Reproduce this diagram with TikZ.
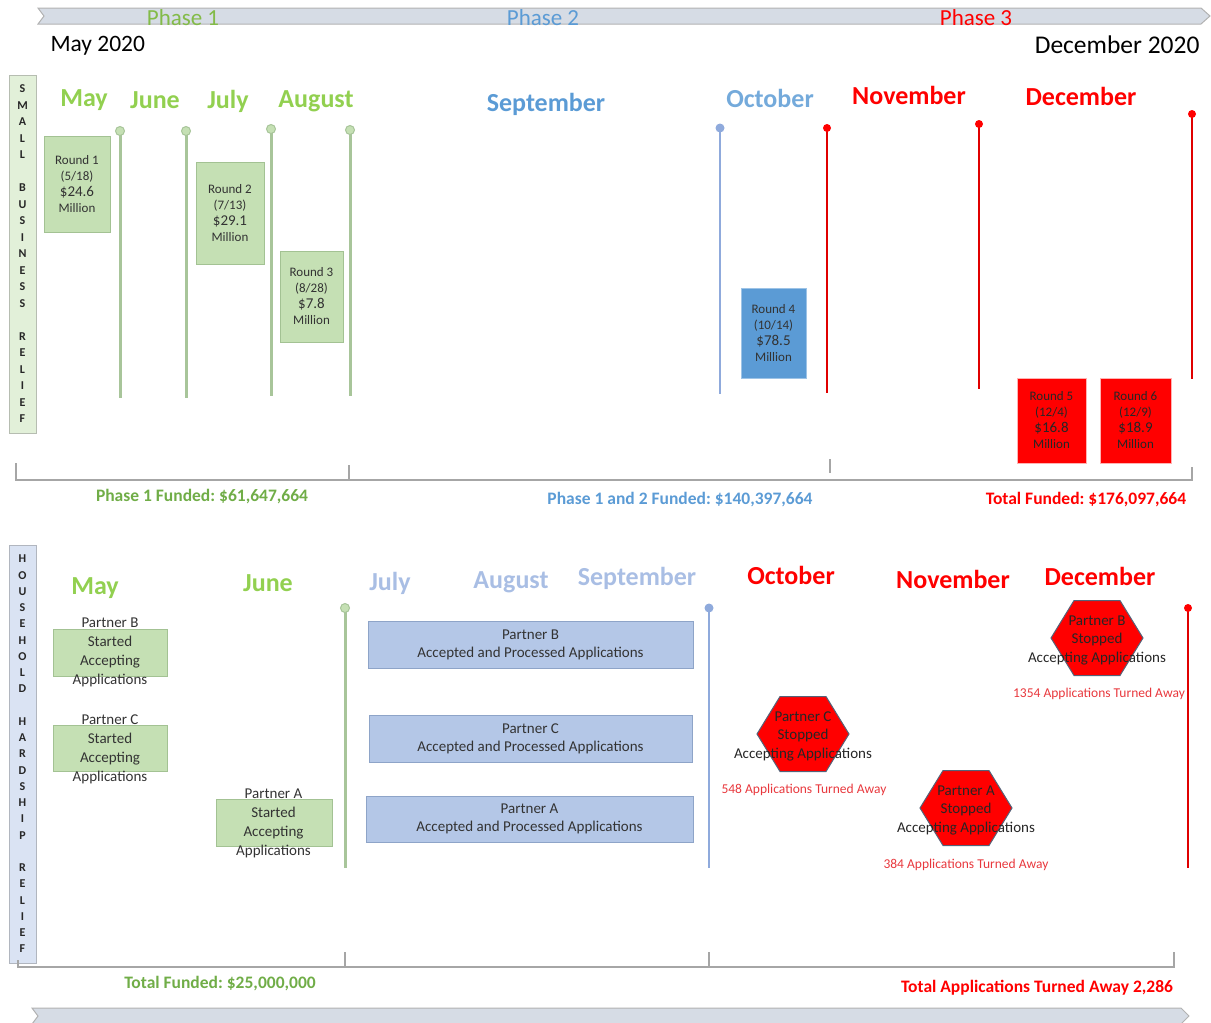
\documentclass[tikz,border=0pt]{standalone}
\usepackage{fontspec}
\setmainfont{Carlito}
\usepackage{tikz}
\frenchspacing

\definecolor{mgreen}{HTML}{92D050}
\definecolor{fgreen}{HTML}{70AD47}
\definecolor{mblue}{HTML}{5B9BD5}
\definecolor{pblue}{HTML}{A9BEE4}
\definecolor{boxgreen}{HTML}{C5E0B4}
\definecolor{edgegreen}{HTML}{A3C293}
\definecolor{boxblue}{HTML}{B4C7E7}
\definecolor{edgeblue}{HTML}{8EA4C8}
\definecolor{linegreen}{HTML}{A8C59A}
\definecolor{lineblue}{HTML}{8FAADC}
\definecolor{linered}{HTML}{E00000}
\definecolor{bandgray}{HTML}{D6DCE5}
\definecolor{tickgray}{HTML}{A6A6A6}
\definecolor{awayred}{HTML}{E8383D}
\definecolor{ink}{HTML}{333333}
\definecolor{sidegreen}{HTML}{E2F0D9}
\definecolor{sideblue}{HTML}{DAE3F3}

\newcommand{\fsz}[2]{\fontsize{#1}{#2}\selectfont}

\begin{document}
\begin{tikzpicture}[x=1pt,y=-1pt,
    month/.style={anchor=base,font=\bfseries\fsz{26}{30}},
    phase/.style={anchor=base,font=\fsz{23}{26}},
    total/.style={anchor=base,font=\bfseries\fsz{17.5}{20}},
    away/.style={anchor=base,text=awayred,font=\fsz{13.5}{16}},
    sidebar/.style={fill=#1,draw=#1!55!gray,minimum width=27,inner sep=0,align=center,text=black!85},
    roundbox/.style={minimum width=66,minimum height=90,inner sep=0,align=center,text=ink,font=\fsz{13}{16}},
    partner/.style={fill=boxgreen,draw=edgegreen,minimum width=114,minimum height=47,inner sep=0},
    started/.style={align=center,text=ink,font=\fsz{15}{19}},
    process/.style={fill=boxblue,draw=edgeblue,minimum width=325,minimum height=47,inner sep=0,align=center,text=ink,font=\fsz{15}{18}},
    hexa/.style={fill=red,draw=edgeblue!60!black,line width=1},
    stop/.style={align=center,text=black!85,font=\fsz{15}{18.5}},
    bracket/.style={draw=tickgray,line width=1.5},
    band/.style={fill=bandgray,draw=gray!60,line width=1}]

\useasboundingbox (0,0) rectangle (1211,1023);

% top band
\draw[band] (38,8) -- (1201,8) -- (1210,16) -- (1201,24) -- (38,24) -- (44,16) -- cycle;
\node[phase,text=mgreen!90!black] (ph1) at (183,25) {Phase 1};
\node[phase,text=mblue] (ph2) at (543,25) {Phase 2};
\node[phase,text=red] (ph3) at (976,25) {Phase 3};
\node[anchor=base west,font=\fsz{23.5}{26}] (start) at (47,51) {May 2020};
\node[anchor=base east,font=\fsz{25.5}{28}] (end) at (1203,53) {December 2020};

% small business relief
\node[sidebar=sidegreen,minimum height=358,font=\bfseries\fsz{12}{16.5}] (sbr) at (22.5,254)
  {S\\M\\A\\L\\L\\~\\B\\U\\S\\I\\N\\E\\S\\S\\~\\R\\E\\L\\I\\E\\F};

\node[month,text=mgreen] (mayA) at (84,106) {May};
\node[month,text=mgreen] (juneA) at (155,108) {June};
\node[month,text=mgreen] (julyA) at (228,108) {July};
\node[month,text=mgreen] (augA) at (316,107) {August};
\node[month,text=mblue] (sepA) at (546,111) {September};
\node[month,text=mblue!85!white] (octA) at (770,107) {October};
\node[month,text=red] (novA) at (909,104) {November};
\node[month,text=red] (decA) at (1081,105) {December};

\foreach \x/\t/\b in {120/131/398,186/131/398,271/129/396,350/130/396}{
  \draw[linegreen,line width=3] (\x,\t) -- (\x,\b);
  \filldraw[fill=boxgreen,draw=linegreen,line width=1] (\x,\t) circle (4.5);
}
\draw[lineblue,line width=2.8] (720,128) -- (720,394);
\fill[lineblue] (720,128) circle (4.5);
\foreach \x/\t/\b in {827/128/393,979/124/389,1192/114/379}{
  \draw[linered,line width=2.2] (\x,\t) -- (\x,\b);
  \fill[red] (\x,\t) circle (4);
}

\node[roundbox,fill=boxgreen,draw=edgegreen,minimum height=96] (r1) at (77,184)
  {Round 1\\(5/18)\\\fsz{15}{17}\$24.6\\Million};
\node[roundbox,fill=boxgreen,draw=edgegreen,minimum width=68,minimum height=102] (r2) at (230,213)
  {Round 2\\(7/13)\\\fsz{15}{17}\$29.1\\Million};
\node[roundbox,fill=boxgreen,draw=edgegreen,minimum width=63,minimum height=91] (r3) at (311.5,296.5)
  {Round 3\\(8/28)\\\fsz{15}{17}\$7.8\\Million};
\node[roundbox,fill=mblue,draw=mblue!60!white,minimum width=65] (r4) at (773.5,333)
  {Round 4\\(10/14)\\\fsz{15}{17}\$78.5\\Million};
\node[roundbox,fill=red,draw=red!30!white,minimum width=69,minimum height=85,text=black!85] (r5) at (1051.5,420.5)
  {Round 5\\(12/4)\\\fsz{15}{17}\$16.8\\Million};
\node[roundbox,fill=red,draw=red!30!white,minimum width=71,minimum height=85,text=black!85] (r6) at (1135.5,420.5)
  {Round 6\\(12/9)\\\fsz{15}{17}\$18.9\\Million};

\draw[bracket] (16,463) -- (16,480) -- (1192,480) -- (1192,467);
\draw[bracket] (349,465) -- (349,480);
\draw[bracket] (830,459) -- (830,473);
\node[total,text=fgreen] (fund1) at (202,501) {Phase 1 Funded: \$61,647,664};
\node[total,text=mblue] (fund2) at (680,504) {Phase 1 and 2 Funded: \$140,397,664};
\node[total,text=red] (fund3) at (1086,504) {Total Funded: \$176,097,664};

% household hardship relief
\node[sidebar=sideblue,minimum height=418,font=\bfseries\fsz{12}{16.25}] (hhr) at (22.5,754)
  {H\\O\\U\\S\\E\\H\\O\\L\\D\\~\\H\\A\\R\\D\\S\\H\\I\\P\\~\\R\\E\\L\\I\\E\\F};

\node[month,text=mgreen] (mayB) at (95,594) {May};
\node[month,text=mgreen] (juneB) at (268,591) {June};
\node[month,text=pblue] (julyB) at (390,590) {July};
\node[month,text=pblue] (augB) at (511,588) {August};
\node[month,text=pblue] (sepB) at (637,585) {September};
\node[month,text=red] (octB) at (791,584) {October};
\node[month,text=red] (novB) at (953,588) {November};
\node[month,text=red] (decB) at (1100,585) {December};

\draw[linegreen,line width=3] (345,608) -- (345,868);
\filldraw[fill=boxgreen,draw=linegreen,line width=1] (345,608) circle (4.5);
\draw[lineblue,line width=2.8] (709,608) -- (709,868);
\fill[lineblue] (709,608) circle (4.5);
\draw[linered,line width=2.2] (1188,608) -- (1188,868);
\fill[red] (1188,608) circle (4);

\node[partner] (boxB) at (110,652.5) {};
\node[partner,minimum height=46] (boxC) at (110,748) {};
\node[partner,minimum width=116] (boxA) at (274,822.5) {};
\node[started] (startB) at (110,652.5) {Partner B\\Started\\Accepting\\Applications};
\node[started] (startC) at (110,749) {Partner C\\Started\\Accepting\\Applications};
\node[started] (startA) at (273.5,823.5) {Partner A\\Started\\Accepting\\Applications};

\node[process] (procB) at (530.5,644.5) {Partner B\\Accepted and Processed Applications};
\node[process,minimum width=323] (procC) at (530.5,738.5) {Partner C\\Accepted and Processed Applications};
\node[process,minimum width=327,minimum height=46] (procA) at (529.5,819) {Partner A\\Accepted and Processed Applications};

\foreach \x/\y in {803/734,966/808,1097/638}
  \draw[hexa] (\x-46,\y) -- (\x-23,\y-37.5) -- (\x+23,\y-37.5) -- (\x+46,\y) -- (\x+23,\y+37.5) -- (\x-23,\y+37.5) -- cycle;
\node[stop] (stopC) at (803,736) {Partner C\\Stopped\\Accepting Applications};
\node[stop] (stopA) at (966,810) {Partner A\\Stopped\\Accepting Applications};
\node[stop] (stopB) at (1097,640) {Partner B\\Stopped\\Accepting Applications};
\node[away] (awayC) at (804,793) {548 Applications Turned Away};
\node[away] (awayA) at (966,868) {384 Applications Turned Away};
\node[away] (awayB) at (1099,697) {1354 Applications Turned Away};

\draw[bracket] (18,960) -- (18,967) -- (1174,967) -- (1174,952);
\draw[bracket] (345,952) -- (345,967);
\draw[bracket] (709,952) -- (709,967);
\node[total,text=fgreen] (fundH) at (220,988) {Total Funded: \$25,000,000};
\node[total,text=red] (awayT) at (1037,992) {Total Applications Turned Away 2,286};

% bottom band
\draw[band] (32,1008) -- (1181,1008) -- (1189,1016) -- (1181,1024) -- (32,1024) -- (38,1016) -- cycle;
\end{tikzpicture}
\end{document}
